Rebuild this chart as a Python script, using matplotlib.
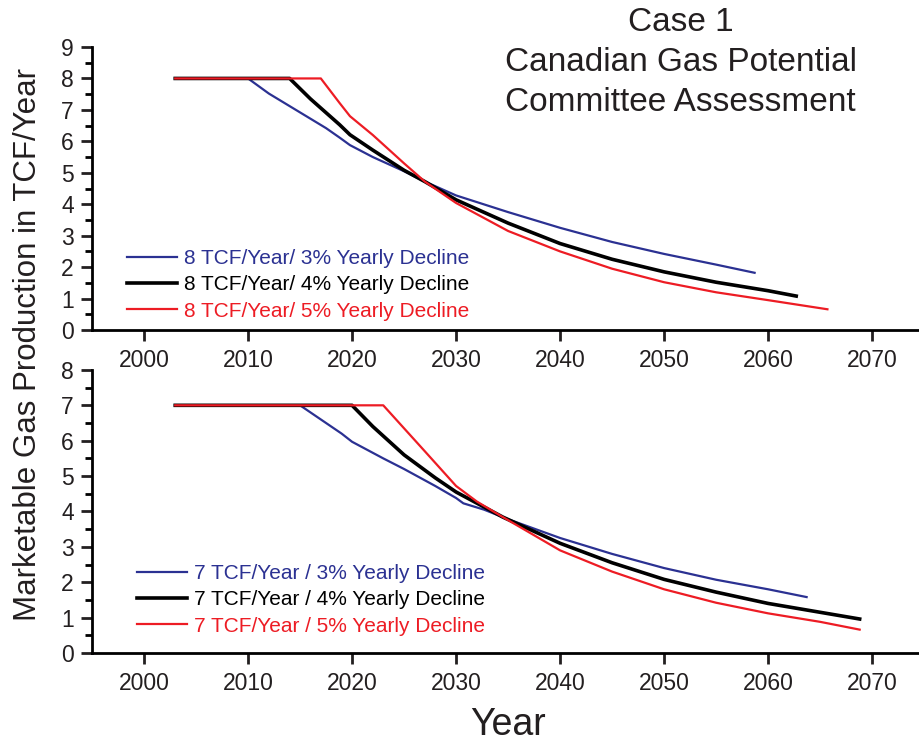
import matplotlib.pyplot as plt

plt.rcParams['font.family'] = ['Liberation Sans', 'DejaVu Sans']

# ---- data ----
# top panel: 8 TCF/Year plateau
top_blue_x = [2003, 2010, 2012, 2014.3, 2016, 2017.5, 2018.8, 2019.8, 2022, 2025, 2027, 2030, 2035, 2040, 2045, 2050, 2055, 2058.7]
top_blue_y = [8.0, 8.0, 7.52, 7.06, 6.72, 6.42, 6.12, 5.88, 5.5, 5.05, 4.72, 4.28, 3.75, 3.25, 2.8, 2.42, 2.08, 1.82]

top_black_x = [2003, 2014, 2016, 2018.8, 2019.8, 2022, 2025, 2027, 2030, 2035, 2040, 2045, 2050, 2055, 2060, 2062.7]
top_black_y = [8.0, 8.0, 7.35, 6.53, 6.21, 5.72, 5.08, 4.72, 4.14, 3.4, 2.75, 2.25, 1.85, 1.52, 1.25, 1.08]

top_red_x = [2003, 2017, 2018.8, 2019.8, 2022, 2025, 2027, 2030, 2035, 2040, 2045, 2050, 2055, 2060, 2065.7]
top_red_y = [8.0, 8.0, 7.22, 6.8, 6.2, 5.3, 4.72, 4.04, 3.15, 2.5, 1.95, 1.52, 1.2, 0.95, 0.66]

# bottom panel: 7 TCF/Year plateau
bot_blue_x = [2003, 2015, 2017, 2019, 2020, 2023, 2025, 2028, 2030, 2030.7, 2032.7, 2035, 2040, 2045, 2050, 2055, 2060, 2063.7]
bot_blue_y = [7.0, 7.0, 6.6, 6.2, 5.97, 5.5, 5.2, 4.72, 4.38, 4.23, 4.05, 3.78, 3.25, 2.8, 2.4, 2.07, 1.8, 1.58]

bot_black_x = [2003, 2020, 2022, 2025, 2028, 2030, 2034.5, 2040, 2045, 2050, 2055, 2060, 2065, 2068.8]
bot_black_y = [7.0, 7.0, 6.4, 5.6, 4.95, 4.55, 3.84, 3.1, 2.55, 2.08, 1.72, 1.4, 1.15, 0.96]

bot_red_x = [2003, 2023, 2025, 2027, 2030, 2032, 2034.5, 2040, 2045, 2050, 2055, 2060, 2065, 2068.8]
bot_red_y = [7.0, 7.0, 6.35, 5.7, 4.72, 4.28, 3.84, 2.9, 2.3, 1.8, 1.42, 1.12, 0.88, 0.66]

top_labels = ['8 TCF/Year/ 3% Yearly Decline', '8 TCF/Year/ 4% Yearly Decline', '8 TCF/Year/ 5% Yearly Decline']
bot_labels = ['7 TCF/Year / 3% Yearly Decline', '7 TCF/Year / 4% Yearly Decline', '7 TCF/Year / 5% Yearly Decline']

x_ticks = [2000, 2010, 2020, 2030, 2040, 2050, 2060, 2070]

blue = '#2b3192'
red = '#ed1c24'

fig = plt.figure(figsize=(9.2, 7.46), dpi=100)
ax1 = fig.add_axes([0.1, 0.5576, 0.9, 0.3794])
ax2 = fig.add_axes([0.1, 0.1247, 0.9, 0.3794])


def style_axis(ax, ymax):
    ax.set_xlim(1995, 2074.6)
    ax.set_ylim(0, ymax)
    ax.spines['top'].set_visible(False)
    ax.spines['right'].set_visible(False)
    ax.spines['left'].set_linewidth(2)
    ax.spines['bottom'].set_linewidth(2)
    ax.set_xticks(x_ticks)
    ax.set_xticks([x + 5 for x in range(1995, 2075, 10)], minor=True)
    ax.set_yticks(range(0, ymax + 1))
    ax.set_yticks([y + 0.5 for y in range(0, ymax)], minor=True)
    ax.tick_params(which='major', direction='out', length=8, width=2, labelsize=16.5, colors='#231f20')
    ax.tick_params(which='minor', direction='out', length=5, width=2)
    ax.tick_params(axis='x', pad=6)
    ax.tick_params(axis='y', pad=5)


ax1.plot(top_blue_x, top_blue_y, color=blue, lw=1.6, label=top_labels[0])
ax1.plot(top_black_x, top_black_y, color='black', lw=2.6, label=top_labels[1])
ax1.plot(top_red_x, top_red_y, color=red, lw=1.6, label=top_labels[2])
style_axis(ax1, 9)

ax2.plot(bot_blue_x, bot_blue_y, color=blue, lw=1.6, label=bot_labels[0])
ax2.plot(bot_black_x, bot_black_y, color='black', lw=2.6, label=bot_labels[1])
ax2.plot(bot_red_x, bot_red_y, color=red, lw=1.6, label=bot_labels[2])
style_axis(ax2, 8)

for ax, anchor in [(ax1, (0.042, 0.285)), (ax2, (0.054, 0.313))]:
    leg = ax.legend(loc='upper left', bbox_to_anchor=anchor, frameon=False, fontsize=15,
                    labelcolor='linecolor', handlelength=2.4, handletextpad=0.35,
                    labelspacing=0.34, borderaxespad=0, borderpad=0)

fig.text(0.74, 0.99, 'Case 1\nCanadian Gas Potential\nCommittee Assessment',
         ha='center', va='top', fontsize=24, color='#231f20', linespacing=1.37)

fig.text(0.03, 0.538, 'Marketable Gas Production in TCF/Year', rotation=90,
         ha='center', va='center', fontsize=22.5, color='#231f20')
fig.text(0.552, 0.028, 'Year', ha='center', va='center', fontsize=27, color='#231f20')

fig.savefig('out.png', dpi=100)
